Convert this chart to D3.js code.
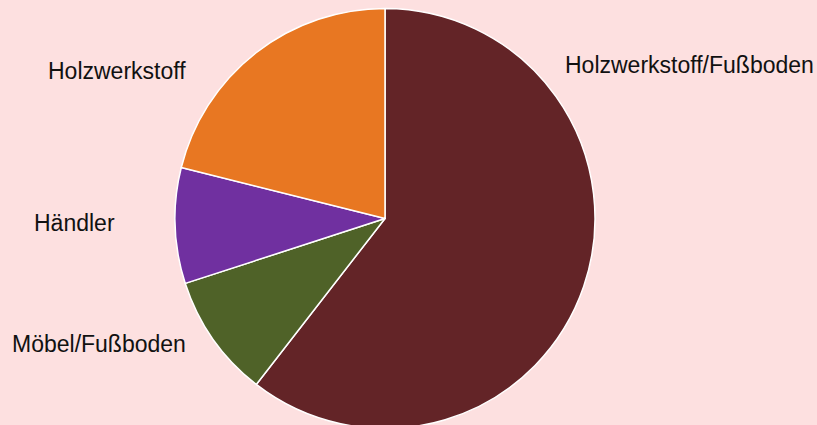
<!DOCTYPE html>
<html>
<head>
<meta charset="utf-8">
<script src="https://cdn.jsdelivr.net/npm/d3@7"></script>
<style>
  html, body { margin: 0; padding: 0; background: #fde0e0; }
  svg { display: block; }
  .label { font-family: Arial, "Liberation Sans", sans-serif; font-size: 23px; fill: #111; }
</style>
</head>
<body>
<div id="chart"></div>
<script>
// data
var categories = ['Holzwerkstoff/Fußboden', 'Möbel/Fußboden', 'Händler', 'Holzwerkstoff'];
var values = [60.5, 9.5, 8.9, 21.1];
var colors = ['#632427', '#4f6228', '#7030a0', '#e87722'];

// label placement (left x, baseline y)
var labelPos = [[565, 73], [12, 352], [34, 231], [48, 79]];

var width = 817, height = 425;
var cx = 385, cy = 218.5, radius = 210;

var svg = d3.select('#chart')
  .append('svg')
    .attr('width', width)
    .attr('height', height);

svg.append('rect')
  .attr('width', width)
  .attr('height', height)
  .attr('fill', '#fde0e0');

var data = categories.map(function(c, i) { return {name: c, value: values[i], color: colors[i]}; });

var pie = d3.pie()
  .sort(null)
  .value(function(d) { return d.value; });

var arc = d3.arc()
  .innerRadius(0)
  .outerRadius(radius);

var g = svg.append('g')
  .attr('transform', 'translate(' + cx + ',' + cy + ')');

g.selectAll('path')
  .data(pie(data))
  .enter()
  .append('path')
    .attr('d', arc)
    .attr('fill', function(d) { return d.data.color; })
    .attr('stroke', '#ffffff')
    .attr('stroke-width', 1.5)
    .attr('stroke-linejoin', 'round');

// labels
svg.selectAll('text.label')
  .data(data)
  .enter()
  .append('text')
    .attr('class', 'label')
    .attr('x', function(d, i) { return labelPos[i][0]; })
    .attr('y', function(d, i) { return labelPos[i][1]; })
    .text(function(d) { return d.name; });
</script>
</body>
</html>
